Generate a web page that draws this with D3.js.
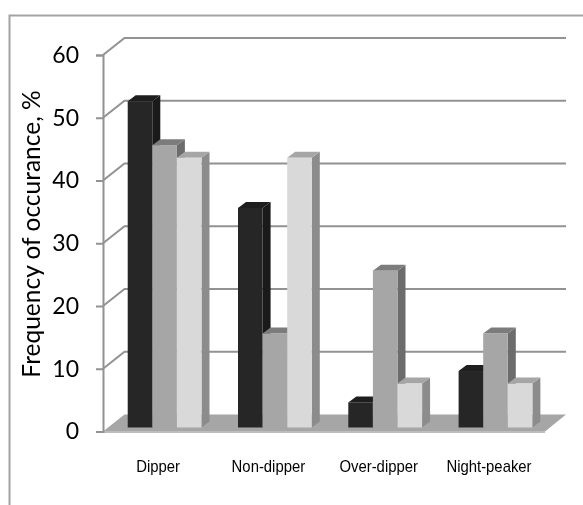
<!DOCTYPE html>
<html>
<head>
<meta charset="utf-8">
<script src="https://cdn.jsdelivr.net/npm/d3@7"></script>
<style>
  html, body { margin: 0; padding: 0; background: #fff; }
  /* the original is a soft, rescaled image */
  svg { display: block; filter: blur(0.4px); }
</style>
</head>
<body>
<svg id="chart" width="583" height="505"></svg>
<script>
const categories = ["Dipper", "Non-dipper", "Over-dipper", "Night-peaker"];
const seriesDark = [52, 35, 4, 9];
const seriesMid = [45, 15, 25, 15];
const seriesLight = [43, 43, 7, 7];
const yTicks = [0, 10, 20, 30, 40, 50, 60];
const yTitle = "Frequency of occurance, %";

const svg = d3.select("#chart");
const axisColor = "#929292";

// 3d offsets of the back wall and of the bars' own depth
const wallDx = 21.5, wallDy = -17;
const barDx = 8, barDy = -6, barLift = 4;

const x = d3.scaleBand().domain(categories).range([109.4, 550.7]).paddingInner(0.331).paddingOuter(0.166);
const inner = d3.scaleBand().domain([0, 1, 2]).range([0, x.bandwidth()]);
const y = d3.scaleLinear().domain([0, 60]).range([431.5, 55]);

const series = [
  {values: seriesDark, front: "#262626", side: "#1a1a1a", top: "#1e1e1e"},
  {values: seriesMid, front: "#a6a6a6", side: "#6c6c6c", top: "#7c7c7c"},
  {values: seriesLight, front: "#d9d9d9", side: "#8c8c8c", top: "#a6a6a6"}
];

// outer frame, no right or bottom side in the original
svg.append("path")
  .attr("d", "M9.5,505V15.5H583")
  .attr("fill", "none")
  .attr("stroke", "#a3a3a3")
  .attr("stroke-width", 2);

// gridlines on the wall plus the slanted bit down to the axis
svg.append("g").selectAll("path")
  .data(yTicks.slice(1))
  .enter()
  .append("path")
    .attr("d", d => `M103,${y(d)}L${103 + wallDx},${y(d) + wallDy}H566`)
    .attr("fill", "none")
    .attr("stroke", axisColor)
    .attr("stroke-width", 2);

// floor
const y0 = y(0);
svg.append("path")
  .attr("d", `M103,${y0}L${103 + wallDx},${y0 + wallDy}H566L545,${y0}Z`)
  .attr("fill", "#a6a6a6");
svg.append("rect")
  .attr("x", 103).attr("y", y0 - 0.5)
  .attr("width", 442).attr("height", 2)
  .attr("fill", "#bdbdbd");

const yAxis = d3.axisLeft(y).tickValues(yTicks).tickSize(7).tickPadding(17);
const yAxisG = svg.append("g")
  .attr("transform", "translate(103,0)")
  .call(yAxis);
yAxisG.selectAll("path, line").attr("stroke", axisColor).attr("stroke-width", 2);
yAxisG.selectAll("text")
  .attr("font-family", "Lato")
  .attr("font-size", 23)
  .attr("fill", "#000");

// bars, left to right so each one covers the side of the previous
series.forEach((s, i) => {
  const g = svg.append("g").selectAll("g")
    .data(s.values.map((v, j) => ({v: v, cat: categories[j]})))
    .enter()
    .append("g");
  const left = d => x(d.cat) + inner(i);
  const w = inner.bandwidth();
  const top = d => y(d.v) - barLift;
  const bottom = y0 - barLift;

  g.append("path")
    .attr("d", d => `M${left(d) + w},${top(d)}l${barDx},${barDy}V${bottom + barDy}l${-barDx},${-barDy}Z`)
    .attr("fill", s.side);
  g.append("path")
    .attr("d", d => `M${left(d)},${top(d)}l${barDx},${barDy}h${w}l${-barDx},${-barDy}Z`)
    .attr("fill", s.top);
  g.append("rect")
    .attr("x", left)
    .attr("y", top)
    .attr("width", w)
    .attr("height", d => bottom - top(d))
    .attr("fill", s.front);
});

// category labels, squeezed a little because the original font is narrower
svg.append("g").selectAll("text")
  .data(categories)
  .enter()
  .append("text")
    .attr("transform", d => `translate(${x(d) + x.bandwidth() / 2 - 6.5},472) scale(0.93,1)`)
    .attr("text-anchor", "middle")
    .attr("font-family", "'Liberation Sans'")
    .attr("font-size", 16)
    .attr("fill", "#000")
    .text(d => d);

svg.append("text")
  .attr("transform", "translate(40,234) rotate(-90)")
  .attr("text-anchor", "middle")
  .attr("font-family", "Lato")
  .attr("font-size", 24.5)
  .attr("fill", "#000")
  .text(yTitle);
</script>
</body>
</html>
